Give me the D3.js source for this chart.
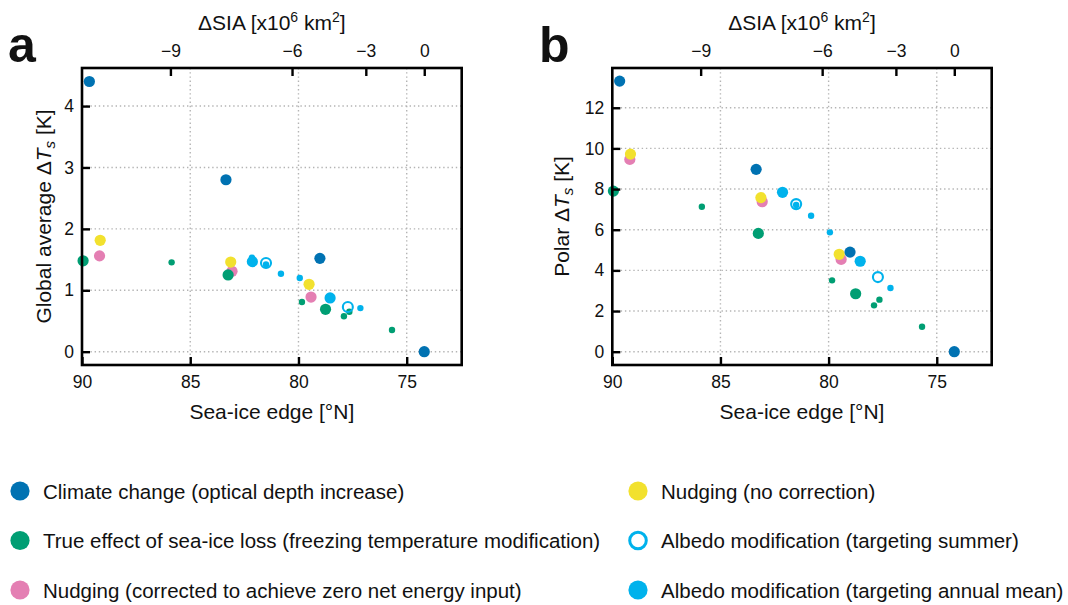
<!DOCTYPE html>
<html><head><meta charset="utf-8">
<script src="https://cdn.jsdelivr.net/npm/d3@7"></script>
<style>
body{margin:0;background:#fff}
svg{display:block}
text{font-family:"Liberation Sans",Arial,Helvetica,sans-serif;fill:#111}
</style>
</head><body>
<svg id="chart" width="1068" height="605"></svg>
<script>
// ---------------- data ----------------
const seaIceTicks = [90, 85, 80, 75];          // bottom axis (°N)
const siaTicks = [-9, -6, -3, 0];              // top axis ΔSIA (10^6 km^2)
const controlEdge = 74.19;                     // sea-ice edge of control run (°N)
const yTicksGlobal = [0, 1, 2, 3, 4];
const yTicksPolar = [0, 2, 4, 6, 8, 10, 12];

// Climate change (optical depth increase)
const ccLat    = [89.66, 83.35, 79.01, 74.19];
const ccGlobal = [4.40, 2.80, 1.52, 0.00];
const ccPolar  = [13.31, 8.97, 4.90, 0.00];
const ccBig    = [1, 1, 1, 1];

// True effect of sea-ice loss (freezing temperature modification)
const trueLat    = [89.95, 85.86, 83.25, 79.84, 78.75, 77.65, 77.90, 75.68];
const trueGlobal = [1.48, 1.455, 1.25, 0.81, 0.69, 0.65, 0.576, 0.353];
const truePolar  = [7.90, 7.13, 5.82, 3.51, 2.85, 2.56, 2.28, 1.23];
const trueBig    = [1, 0, 1, 0, 1, 0, 0, 0];

// Nudging (corrected to achieve zero net energy input)
const nudgeCorrLat    = [89.19, 83.07, 79.42];
const nudgeCorrGlobal = [1.56, 1.31, 0.89];
const nudgeCorrPolar  = [9.46, 7.38, 4.54];
const nudgeCorrBig    = [1, 1, 1];

// Nudging (no correction)
const nudgeLat    = [89.16, 83.13, 79.51];
const nudgeGlobal = [1.814, 1.46, 1.097];
const nudgePolar  = [9.72, 7.58, 4.79];
const nudgeBig    = [1, 1, 1];

// Albedo modification (targeting summer)
const albSumLat    = [81.50, 77.72];
const albSumGlobal = [1.445, 0.728];
const albSumPolar  = [7.26, 3.67];
const albSumBig    = [1, 1];

// Albedo modification (targeting annual mean)
const albAnnLat    = [82.15, 82.13, 81.50, 80.81, 79.94, 78.54, 77.14];
const albAnnGlobal = [1.53, 1.466, 1.42, 1.27, 1.20, 0.875, 0.71];
const albAnnPolar  = [7.88, 7.84, 7.22, 6.69, 5.87, 4.45, 3.13];
const albAnnBig    = [0, 1, 0, 0, 0, 1, 0];

const legendLabels = [
  "Climate change (optical depth increase)",
  "True effect of sea-ice loss (freezing temperature modification)",
  "Nudging (corrected to achieve zero net energy input)",
  "Nudging (no correction)",
  "Albedo modification (targeting summer)",
  "Albedo modification (targeting annual mean)"
];

// ---------------- styling ----------------
const C = {
  cc: "#0072B2", tr: "#009E73", pk: "#E47FB3",
  ye: "#F2E12E", lb: "#00B2EC"
};

const series = [
  {key:"pk", lat:nudgeCorrLat, g:nudgeCorrGlobal, p:nudgeCorrPolar, big:nudgeCorrBig, color:C.pk, open:false},
  {key:"ye", lat:nudgeLat, g:nudgeGlobal, p:nudgePolar, big:nudgeBig, color:C.ye, open:false},
  {key:"tr", lat:trueLat, g:trueGlobal, p:truePolar, big:trueBig, color:C.tr, open:false},
  {key:"cc", lat:ccLat, g:ccGlobal, p:ccPolar, big:ccBig, color:C.cc, open:false},
  {key:"lb", lat:albAnnLat, g:albAnnGlobal, p:albAnnPolar, big:albAnnBig, color:C.lb, open:false},
  {key:"ring", lat:albSumLat, g:albSumGlobal, p:albSumPolar, big:albSumBig, color:C.lb, open:true}
];

const rScale = d3.scaleOrdinal().domain([0, 1]).range([3.2, 5.6]);

// convert ΔSIA (10^6 km^2) to sea-ice edge latitude (spherical cap)
const capFactor = 2 * Math.PI * 6371 * 6371 / 1e6; // 10^6 km^2
function siaToLat(s) {
  const sinPhi = Math.sin(controlEdge * Math.PI / 180) - s / capFactor;
  return Math.asin(sinPhi) * 180 / Math.PI;
}

const svg = d3.select("#chart");
const FS_TICK = 17.5, FS_LAB = 21;

function panel(opt) {
  const {left, right, top, bottom, yDom, yTicks, valKey, letter, letterX, ylabel, ylabX} = opt;
  const x = d3.scaleLinear().domain([90, 72.46]).range([left, right]);
  const y = d3.scaleLinear().domain(yDom).range([bottom, top]);
  const g = svg.append("g");

  // grid
  const grid = g.append("g").attr("stroke", "#b4b4b4").attr("stroke-width", 1.4)
    .attr("stroke-dasharray", "1.4,2.8").attr("fill", "none");
  grid.selectAll("line.h").data(yTicks).join("line").attr("class", "h")
    .attr("x1", left).attr("x2", right).attr("y1", d => y(d)).attr("y2", d => y(d));
  grid.selectAll("line.v").data(seaIceTicks.filter(d => d !== 90)).join("line").attr("class", "v")
    .attr("y1", top).attr("y2", bottom).attr("x1", d => x(d)).attr("x2", d => x(d));

  // points
  series.forEach(s => {
    const pts = s.lat.map((la, i) => ({la, v: s[valKey][i], big: s.big[i]}));
    g.append("g").selectAll("circle").data(pts).join("circle")
      .attr("cx", d => x(d.la)).attr("cy", d => y(d.v))
      .attr("r", d => s.open ? 5 : rScale(d.big))
      .attr("fill", s.open ? "none" : s.color)
      .attr("stroke", s.open ? s.color : "none")
      .attr("stroke-width", s.open ? 2.1 : 0);
  });

  // axes (ticks inward)
  const axL = d3.axisLeft(y).tickValues(yTicks).tickSize(-8).tickPadding(8).tickFormat(d3.format("d"));
  const axB = d3.axisBottom(x).tickValues(seaIceTicks).tickSize(-8).tickPadding(10.5).tickFormat(d3.format("d"));
  const axT = d3.axisTop(x).tickValues(siaTicks.map(siaToLat)).tickSize(-8).tickPadding(11)
    .tickFormat((d, i) => d3.format("d")(siaTicks[i]));
  [[axL, `translate(${left},0)`], [axB, `translate(0,${bottom})`], [axT, `translate(0,${top})`]].forEach(([ax, tr]) => {
    const a = g.append("g").attr("transform", tr).call(ax);
    a.select(".domain").remove();
    a.selectAll("line").attr("stroke", "#000").attr("stroke-width", 2.4);
    a.selectAll("text").attr("font-size", FS_TICK).attr("fill", "#111")
      .attr("font-family", '"Liberation Sans",Arial,sans-serif');
  });

  // frame
  g.append("rect").attr("x", left).attr("y", top).attr("width", right - left).attr("height", bottom - top)
    .attr("fill", "none").attr("stroke", "#000").attr("stroke-width", 2.6);

  const cx = (left + right) / 2;
  // bottom label
  g.append("text").attr("x", cx).attr("y", 419).attr("text-anchor", "middle").attr("font-size", FS_LAB)
    .text("Sea-ice edge [°N]");
  // top label
  const tt = g.append("text").attr("x", cx).attr("y", 30).attr("text-anchor", "middle").attr("font-size", FS_LAB);
  tt.append("tspan").text("ΔSIA [x10");
  tt.append("tspan").attr("dy", -8).attr("font-size", 14).text("6");
  tt.append("tspan").attr("dy", 8).text(" km");
  tt.append("tspan").attr("dy", -8).attr("font-size", 14).text("2");
  tt.append("tspan").attr("dy", 8).text("]");
  // y label
  const yl = g.append("text").attr("transform", `translate(${ylabX},${(top + bottom) / 2}) rotate(-90)`)
    .attr("text-anchor", "middle").attr("font-size", FS_LAB);
  yl.append("tspan").text(ylabel + " Δ");
  yl.append("tspan").attr("font-style", "italic").text("T");
  yl.append("tspan").attr("font-style", "italic").attr("font-size", 15).attr("dy", 4).text("s");
  yl.append("tspan").attr("dy", -4).text(" [K]");
  // panel letter
  g.append("text").attr("x", letterX).attr("y", 62).attr("font-size", 50).attr("font-weight", "bold")
    .attr("fill", "#000").text(letter);
}

panel({left: 82, right: 461.7, top: 68, bottom: 365, yDom: [-0.217, 4.62], yTicks: yTicksGlobal,
  valKey: "g", letter: "a", letterX: 8, ylabel: "Global average", ylabX: 51});
panel({left: 612.3, right: 991.7, top: 68, bottom: 365, yDom: [-0.654, 13.955], yTicks: yTicksPolar,
  valKey: "p", letter: "b", letterX: 539, ylabel: "Polar", ylabX: 569});

// ---------------- legend ----------------
const legendColors = [C.cc, C.tr, C.pk, C.ye, C.lb, C.lb];
const legendOpen = [false, false, false, false, true, false];
const legendItems = legendLabels.map((t, i) => ({t, c: legendColors[i], open: legendOpen[i], col: Math.floor(i / 3), row: i % 3}));
const colX = d3.scaleOrdinal().domain([0, 1]).range([20, 638]);
const rowY = d3.scalePoint().domain([0, 1, 2]).range([491, 590]);
const lg = svg.append("g");
const li = lg.selectAll("g").data(legendItems).join("g")
  .attr("transform", d => `translate(${colX(d.col)},${rowY(d.row)})`);
li.append("circle").attr("r", d => d.open ? 8.3 : 9.6)
  .attr("fill", d => d.open ? "none" : d.c)
  .attr("stroke", d => d.open ? d.c : "none").attr("stroke-width", 3);
li.append("text").attr("x", 23).attr("y", 7.5).attr("font-size", 20.5).text(d => d.t);
</script>
</body></html>
